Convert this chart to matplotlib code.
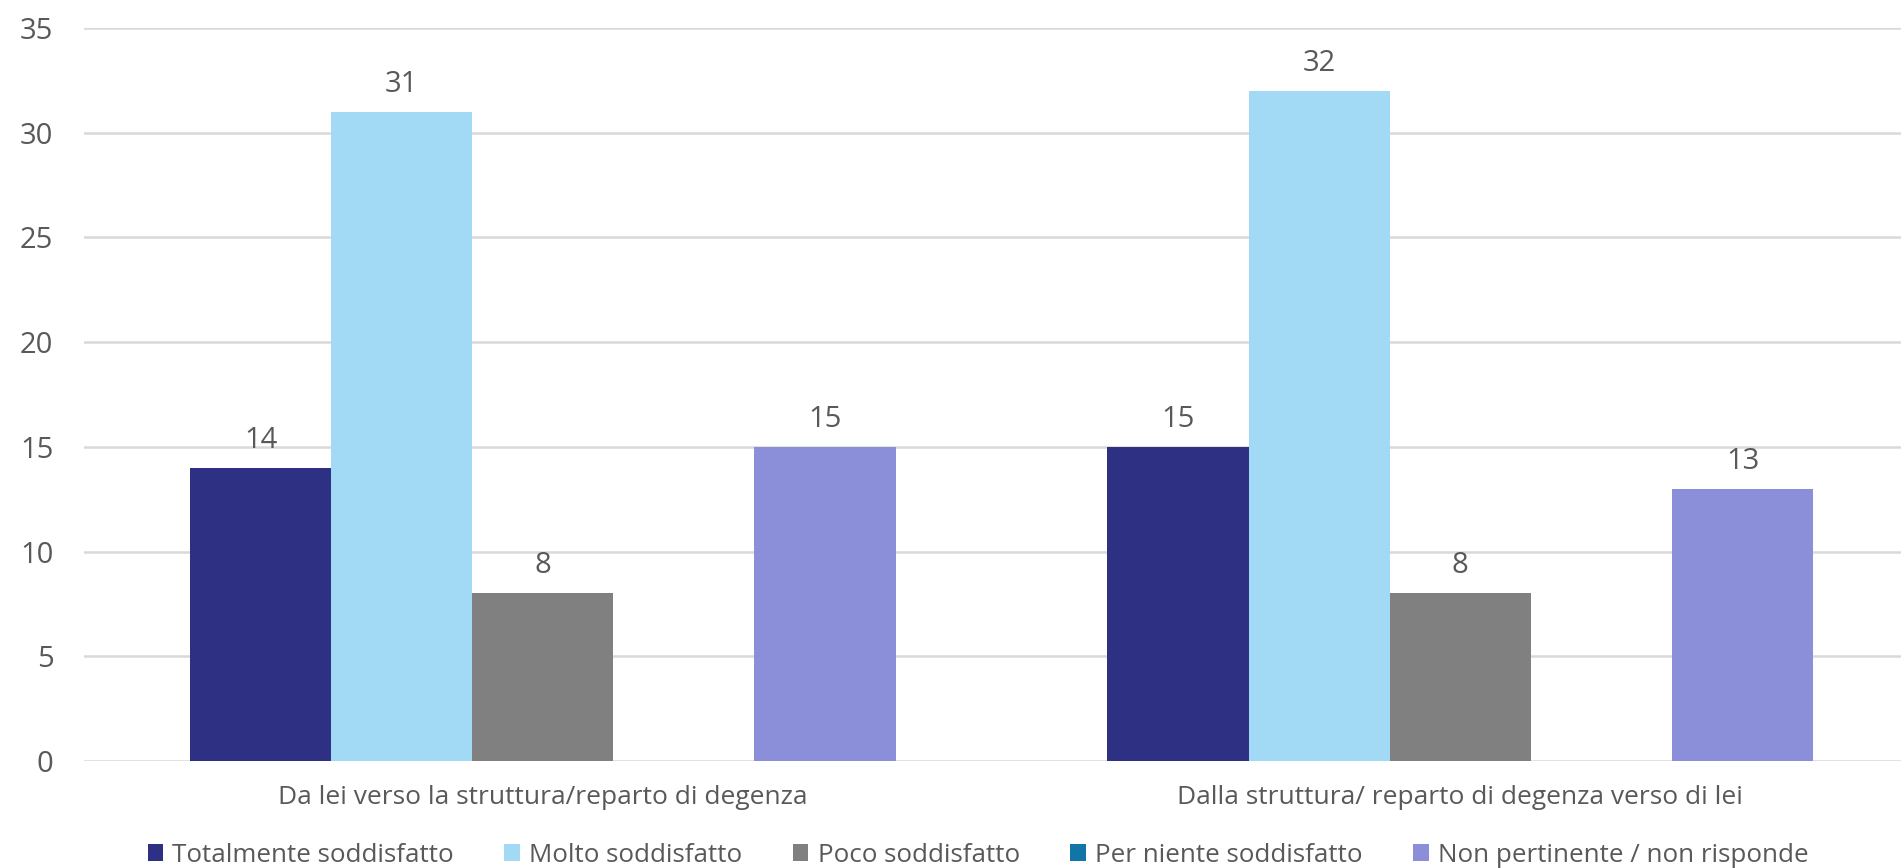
import numpy as np
import matplotlib.pyplot as plt
from matplotlib.patches import Patch

plt.rcParams["font.family"] = ["Open Sans", "DejaVu Sans"]

# survey answers per direction of communication
categories = [
    "Da lei verso la struttura/reparto di degenza",
    "Dalla struttura/ reparto di degenza verso di lei",
]
series_names = [
    "Totalmente soddisfatto",
    "Molto soddisfatto",
    "Poco soddisfatto",
    "Per niente soddisfatto",
    "Non pertinente / non risponde",
]
totalmente = [14, 15]
molto = [31, 32]
poco = [8, 8]
per_niente = [0, 0]
non_pertinente = [15, 13]

colors = ["#2E3083", "#A2DAF5", "#808080", "#1175A8", "#8B8ED8"]
text_color = "#595959"
grid_color = "#D9D9D9"

values = [totalmente, molto, poco, per_niente, non_pertinente]

fig = plt.figure(figsize=(19.01, 8.68), dpi=100)
# the plot area runs a little past the right edge of the canvas
ax = fig.add_axes([84 / 1901, 107 / 868, 1835 / 1901, 733 / 868])

x = np.arange(len(categories))
n = len(series_names)
width = 1 / (n + 1.5)  # 150% gap between category groups

for i, (name, vals, col) in enumerate(zip(series_names, values, colors)):
    pos = x + (i - (n - 1) / 2) * width
    bars = ax.bar(pos, vals, width=width, color=col, label=name, zorder=2)
    for b, v in zip(bars, vals):
        if v > 0:
            ax.annotate(
                f"{v}",
                xy=(b.get_x() + b.get_width() / 2, v),
                xytext=(0, 9.5),
                textcoords="offset points",
                ha="center",
                va="bottom",
                fontsize=21,
                color=text_color,
            )

ax.set_xlim(-0.5, 1.5)
ax.set_ylim(0, 35)
ax.set_yticks(np.arange(0, 36, 5))
ax.yaxis.grid(True, color=grid_color, linewidth=1.8, zorder=0)
ax.set_axisbelow(True)
for s in ax.spines.values():
    s.set_visible(False)

ax.set_xticks(x)
ax.set_xticklabels(categories, fontsize=19, color=text_color)
ax.tick_params(axis="x", length=0, pad=17)
ax.tick_params(axis="y", length=0, pad=22, labelsize=21, labelcolor=text_color)

handles = [Patch(facecolor=c, edgecolor="none") for c in colors]
fig.legend(
    handles,
    series_names,
    loc="center",
    bbox_to_anchor=(978 / 1901, 13 / 868),
    ncol=n,
    frameon=False,
    fontsize=18.7,
    handlelength=0.6,
    handleheight=0.6,
    handletextpad=0.35,
    columnspacing=1.95,
    labelcolor=text_color,
)

fig.savefig("out.png", dpi=100)
